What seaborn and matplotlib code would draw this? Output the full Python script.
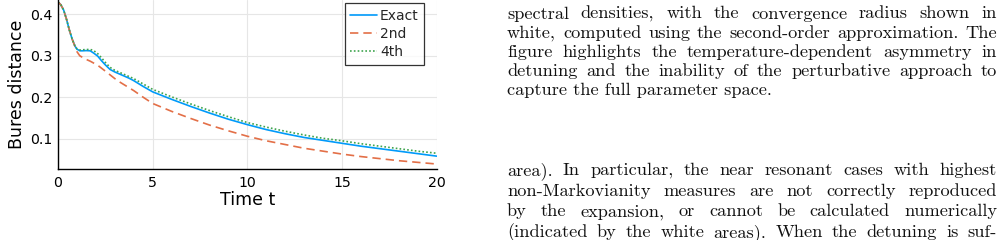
import numpy as np
import pandas as pd
import matplotlib
matplotlib.use("Agg")
import matplotlib.pyplot as plt
import seaborn as sns
from matplotlib.font_manager import FontProperties
from matplotlib.lines import Line2D

# ---------------- data ----------------
t = [0, 0.15, 0.3, 0.45, 0.6, 0.75, 0.9, 1.0, 1.15, 1.3, 1.5, 1.7, 1.9, 2.1,
     2.3, 2.5, 2.75, 3.0, 3.25, 3.5, 3.75, 4.0, 4.5, 5, 6, 7, 8, 9, 10, 11,
     12, 13, 14, 15, 16, 17, 18, 19, 20]
exact = [0.430, 0.423, 0.410, 0.388, 0.362, 0.340, 0.323, 0.316, 0.312, 0.312,
         0.3125, 0.312, 0.306, 0.299, 0.288, 0.278, 0.267, 0.261, 0.256, 0.251,
         0.246, 0.240, 0.226, 0.213, 0.195, 0.178, 0.162, 0.147, 0.134, 0.122,
         0.112, 0.103, 0.096, 0.089, 0.082, 0.076, 0.070, 0.064, 0.058]
second = [0.430, 0.423, 0.410, 0.388, 0.362, 0.340, 0.322, 0.310, 0.300, 0.296,
          0.291, 0.287, 0.282, 0.277, 0.270, 0.263, 0.254, 0.245, 0.237, 0.230,
          0.223, 0.216, 0.200, 0.185, 0.166, 0.149, 0.133, 0.119, 0.106, 0.095,
          0.086, 0.077, 0.070, 0.063, 0.057, 0.052, 0.047, 0.043, 0.039]
fourth = [0.430, 0.423, 0.410, 0.388, 0.362, 0.340, 0.323, 0.317, 0.314, 0.3145,
          0.315, 0.3155, 0.312, 0.305, 0.295, 0.284, 0.272, 0.265, 0.260, 0.255,
          0.250, 0.245, 0.232, 0.219, 0.201, 0.184, 0.168, 0.153, 0.139, 0.128,
          0.118, 0.109, 0.101, 0.095, 0.088, 0.082, 0.076, 0.070, 0.065]
series_names = ["Exact", "2nd", "4th"]
x_ticks = [0, 5, 10, 15, 20]
y_ticks = [0.1, 0.2, 0.3, 0.4]

para1 = ["spectral densities, with the convergence radius shown in",
         "white, computed using the second-order approximation. The",
         "figure highlights the temperature-dependent asymmetry in",
         "detuning and the inability of the perturbative approach to",
         "capture the full parameter space."]
para2 = ["area). In particular, the near resonant cases with highest",
         "non-Markovianity measures are not correctly reproduced",
         "by the expansion, or cannot be calculated numerically",
         "(indicated by the white areas). When the detuning is suf-"]

# ---------------- figure ----------------
W, H, DPI = 1003, 240, 100
sns.set_theme(style="white")
plt.rcParams['font.family'] = ['DejaVu Sans']
fig = plt.figure(figsize=(W / DPI, H / DPI), dpi=DPI)
fig.patch.set_facecolor("white")

ax_l, ax_r, ax_b, ax_t = 58, 436.7, 169, 0
ax = fig.add_axes([ax_l / W, (H - ax_b) / H, (ax_r - ax_l) / W, (ax_b - ax_t) / H])
ax.set_facecolor("white")

df = pd.DataFrame({
    "t": t * 3,
    "value": exact + second + fourth,
    "series": [series_names[0]] * len(t) + [series_names[1]] * len(t) + [series_names[2]] * len(t),
})
palette = {"Exact": "#009AFA", "2nd": "#E36F47", "4th": "#3EA44E"}
dashes = {"Exact": "", "2nd": (5, 3), "4th": (1, 1.3)}
sns.lineplot(data=df, x="t", y="value", hue="series", style="series",
             palette=palette, dashes=dashes, linewidth=1.2, ax=ax,
             legend=False, sort=False, estimator=None)

ax.set_xlim(0, 20)
ax.set_ylim(0.027, 0.4345)
ax.set_xticks(x_ticks)
ax.set_xticklabels([str(v) for v in x_ticks])
ax.set_yticks(y_ticks)
ax.set_yticklabels([f"{v:.1f}" for v in y_ticks])
ax.grid(True, color="#e6e6e6", linewidth=0.8)
ax.set_axisbelow(True)
for s in ["top", "right"]:
    ax.spines[s].set_visible(False)
for s in ["left", "bottom"]:
    ax.spines[s].set_color("black")
    ax.spines[s].set_linewidth(1.0)
ax.tick_params(axis="both", direction="in", length=3, width=0.8, color="black",
               labelsize=10.2, labelcolor="black", pad=4)
ax.tick_params(axis="x", pad=5)
ax.set_xlabel("Time t", fontsize=12.5, color="black", labelpad=1)
ax.set_ylabel("Bures distance", fontsize=12.5, color="black", labelpad=3)

handles = [Line2D([], [], color=palette[n], linewidth=1.2,
                  linestyle=("-" if n == "Exact" else ((0, (5, 3)) if n == "2nd" else (0, (1, 1.3)))))
           for n in series_names]
leg = ax.legend(handles, series_names, loc="upper right",
                bbox_to_anchor=((424.3 - ax_l) / (ax_r - ax_l), (ax_b - 3.3) / (ax_b - ax_t)),
                borderaxespad=0, fontsize=10, frameon=True, fancybox=False,
                handlelength=1.95, handletextpad=0.2, labelspacing=0.3,
                borderpad=0.4)
leg.get_frame().set_edgecolor("black")
leg.get_frame().set_linewidth(0.9)

# ---------------- paper text (justified) ----------------
fp = FontProperties(family="cmr10", size=13.2)
fig.canvas.draw()
renderer = fig.canvas.get_renderer()


def text_width(s):
    tt = fig.text(0, 0, s, fontproperties=fp)
    w = tt.get_window_extent(renderer).width
    tt.remove()
    return w


def put_line(s, x0, x1, ybase, justify=True):
    words = s.split(" ")
    yf = 1 - ybase / H
    if not justify or len(words) == 1:
        fig.text(x0 / W, yf, s, fontproperties=fp, va="baseline", ha="left", color="#111111")
        return
    ws = [text_width(w) for w in words]
    gap = (x1 - x0 - sum(ws)) / (len(words) - 1)
    x = x0
    for w, wd in zip(words, ws):
        fig.text(x / W, yf, w, fontproperties=fp, va="baseline", ha="left", color="#111111")
        x += wd + gap


X0, X1 = 507, 997
base1 = [18.5, 38.0, 57.3, 76.3, 95.3]
for i, line in enumerate(para1):
    put_line(line, X0, X1, base1[i], justify=(i < len(para1) - 1))
base2 = [175.0, 195.7, 216.3, 237.0]
for i, line in enumerate(para2):
    put_line(line, X0, X1, base2[i], justify=True)

fig.savefig("out.png", dpi=DPI, facecolor="white")
